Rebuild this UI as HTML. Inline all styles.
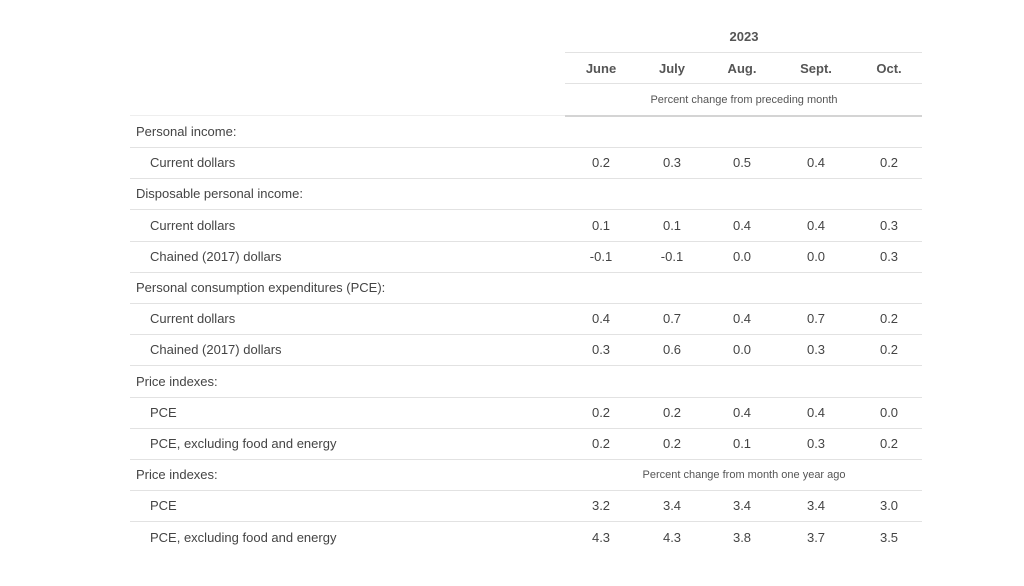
<!DOCTYPE html>
<html><head><style>
body{margin:0;width:1024px;height:586px;background:#fff;font-family:"Liberation Sans",sans-serif;color:#444;position:relative;overflow:hidden}
.t{position:absolute;font-size:13px;line-height:16px;white-space:nowrap}
.c{transform:translateX(-50%)}
.h{font-weight:bold;color:#555}
.s{font-size:11px;color:#555}
.l{position:absolute;height:1px;background:#e2e2e2}
</style></head><body>
<div class="t c h" style="left:744px;top:29px">2023</div>
<div class="l" style="left:565px;width:357px;top:52px"></div>
<div class="t c h" style="left:601px;top:61px">June</div>
<div class="t c h" style="left:672px;top:61px">July</div>
<div class="t c h" style="left:742px;top:61px">Aug.</div>
<div class="t c h" style="left:816px;top:61px">Sept.</div>
<div class="t c h" style="left:889px;top:61px">Oct.</div>
<div class="l" style="left:565px;width:357px;top:83px"></div>
<div class="t c s" style="left:744px;top:92px">Percent change from preceding month</div>
<div class="l" style="left:130px;width:792px;top:115px;background:#eee"></div>
<div class="l" style="left:565px;width:357px;top:115px;height:2px;background:#d4d4d4"></div>
<div id="rows"></div>
<script>
var rows=[
["Personal income:",0],
["Current dollars",1,"0.2","0.3","0.5","0.4","0.2"],
["Disposable personal income:",0],
["Current dollars",1,"0.1","0.1","0.4","0.4","0.3"],
["Chained (2017) dollars",1,"-0.1","-0.1","0.0","0.0","0.3"],
["Personal consumption expenditures (PCE):",0],
["Current dollars",1,"0.4","0.7","0.4","0.7","0.2"],
["Chained (2017) dollars",1,"0.3","0.6","0.0","0.3","0.2"],
["Price indexes:",0],
["PCE",1,"0.2","0.2","0.4","0.4","0.0"],
["PCE, excluding food and energy",1,"0.2","0.2","0.1","0.3","0.2"],
["Price indexes:",2],
["PCE",1,"3.2","3.4","3.4","3.4","3.0"],
["PCE, excluding food and energy",1,"4.3","4.3","3.8","3.7","3.5"]];
var xs=[601,672,742,816,889],h="";
rows.forEach(function(r,i){var y=131+i*31.2;
h+='<div class="t" style="left:'+(r[1]==1?150:136)+'px;top:'+(y-7)+'px">'+r[0]+'</div>';
if(r[1]==2)h+='<div class="t c s" style="left:744px;top:'+(y-7)+'px">Percent change from month one year ago</div>';
for(var k=0;k<5;k++)if(r[2+k])h+='<div class="t c" style="left:'+xs[k]+'px;top:'+(y-7)+'px">'+r[2+k]+'</div>';
if(i<13)h+='<div class="l" style="left:130px;width:792px;top:'+Math.round(y+16)+'px"></div>';});
document.getElementById('rows').innerHTML=h;
</script>
</body></html>
